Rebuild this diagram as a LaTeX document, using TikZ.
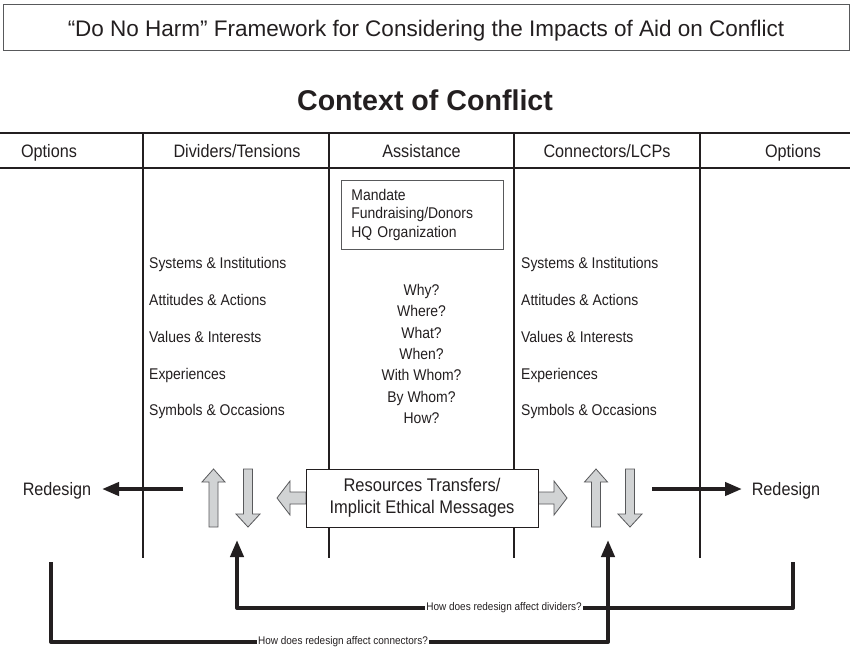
\documentclass[tikz,border=0pt]{standalone}
\usepackage{fontspec}
\setmainfont{Liberation Sans}
\newfontfamily\cndfont[FakeStretch=0.9]{Liberation Sans}
\usetikzlibrary{arrows.meta}
\definecolor{ink}{HTML}{231F20}
\definecolor{agrey}{HTML}{D1D3D4}
\definecolor{bgrey}{HTML}{58595B}
\begin{document}
\begin{tikzpicture}[x=1pt,y=-1pt,
  txt/.style={inner sep=0pt,anchor=base,text=ink},
  body/.style={txt,font=\cndfont\fontsize{15.5}{17}\selectfont},
  head/.style={txt,font=\cndfont\fontsize{18}{20}\selectfont},
  small/.style={inner sep=1.5pt,text=ink,fill=white,font=\cndfont\fontsize{11.1}{13}\selectfont},
  tline/.style={draw=ink,line width=1.2pt},
  garrow/.style={draw=bgrey,fill=agrey,line width=0.8pt,line join=miter},
  barrow/.style={draw=ink,line width=4pt,-{Triangle[length=17pt,width=13pt]}},
  fback/.style={draw=ink,line width=4pt,line join=round,-{Triangle[length=17pt,width=13pt]}}
]
\useasboundingbox (0,0) rectangle (850,648);
\fill[white] (0,0) rectangle (850,648);

% title
\node[draw=bgrey,line width=0.9pt,minimum width=846pt,minimum height=46pt,inner sep=0pt] (titlebox) at (426,27.5) {};
\node[txt,font=\fontsize{22.5}{24}\selectfont] (title) at (426,36) {“Do No Harm” Framework for Considering the Impacts of Aid on Conflict};

\node[txt,font=\bfseries\fontsize{28.6}{30}\selectfont] (ctx) at (425,110) {Context of Conflict};

% table
\coordinate (tl) at (0,133); \coordinate (tr) at (850,133);
\coordinate (hl) at (0,168); \coordinate (hr) at (850,168);
\draw[tline] (tl) -- (tr);
\draw[tline] (hl) -- (hr);
\foreach \x/\n in {143/a,329/b,514/c,700/d}{
  \coordinate (top\n) at (\x,133);
  \coordinate (bot\n) at (\x,558);
  \draw[tline] (top\n) -- (bot\n);
}

\node[head] (h1) at (49,157) {Options};
\node[head] (h2) at (237,157) {Dividers/Tensions};
\node[head] (h3) at (421.5,157) {Assistance};
\node[head] (h4) at (607,157) {Connectors/LCPs};
\node[head] (h5) at (793,157) {Options};

% mandate box
\node[draw=bgrey,line width=0.8pt,anchor=north west,minimum width=162pt,minimum height=69pt,
      text width=142pt,inner xsep=10pt,inner ysep=0pt,align=left,text=ink,
      font=\cndfont\fontsize{15.5}{18.5}\selectfont] (mandate) at (341,180)
      {Mandate\\Fundraising/Donors\\HQ Organization};

% dividers / connectors lists
\foreach \y/\t/\n in {268/Systems \& Institutions/1,305/Attitudes \& Actions/2,342/Values \& Interests/3,379/Experiences/4,415/Symbols \& Occasions/5}{
  \node[body,anchor=base west] (dv\n) at (149,\y) {\t};
  \node[body,anchor=base west] (cn\n) at (521,\y) {\t};
}

% questions
\node[inner sep=0pt,text=ink,align=center,font=\cndfont\fontsize{15.5}{21.3}\selectfont] (quest) at (421.5,354)
  {Why?\\Where?\\What?\\When?\\With Whom?\\By Whom?\\How?};

% grey arrows
\foreach \cx in {213.5,596}{
  \draw[garrow] (\cx-4.5,527) -- (\cx-4.5,482) -- (\cx-11.5,482) -- (\cx,469) -- (\cx+11.5,482) -- (\cx+4.5,482) -- (\cx+4.5,527) -- cycle;
}
\foreach \cx in {248,630}{
  \draw[garrow] (\cx-4.5,469) -- (\cx-4.5,514) -- (\cx-12,514) -- (\cx,527) -- (\cx+12,514) -- (\cx+4.5,514) -- (\cx+4.5,469) -- cycle;
}
\draw[garrow] (306,492) -- (290,492) -- (290,481) -- (277,498) -- (290,515) -- (290,504) -- (306,504) -- cycle;
\draw[garrow] (538,492) -- (554,492) -- (554,481) -- (567,498) -- (554,515) -- (554,504) -- (538,504) -- cycle;

% resources box
\node[draw=ink,line width=0.9pt,fill=white,minimum width=232pt,minimum height=58pt,inner sep=0pt,
      align=center,text=ink,font=\cndfont\fontsize{18.3}{22}\selectfont] (res) at (422,498)
      {Resources Transfers/\\Implicit Ethical Messages};

% redesign
\node[txt,font=\cndfont\fontsize{18}{20}\selectfont] (redL) at (57,495.5) {Redesign};
\node[txt,font=\cndfont\fontsize{18}{20}\selectfont] (redR) at (786,495.5) {Redesign};
\coordinate (rlS) at (183,489); \coordinate (rlE) at (102,489);
\coordinate (rrS) at (652,489); \coordinate (rrE) at (742,489);
\draw[barrow] (rlS) -- (rlE);
\draw[barrow] (rrS) -- (rrE);

% feedback loops
\coordinate (dStart) at (793,562); \coordinate (dC) at (793,608);
\coordinate (dB) at (237,608); \coordinate (dTip) at (237,540);
\coordinate (cStart) at (51,562); \coordinate (cC) at (51,642);
\coordinate (cB) at (608,642); \coordinate (cTip) at (608,540);
\draw[fback] (dStart) -- (dC) -- (dB) -- (dTip);
\node[small] (dlab) at (504,608) {How does redesign affect dividers?};
\draw[fback] (cStart) -- (cC) -- (cB) -- (cTip);
\node[small] (clab) at (343,642) {How does redesign affect connectors?};
\end{tikzpicture}
\end{document}
